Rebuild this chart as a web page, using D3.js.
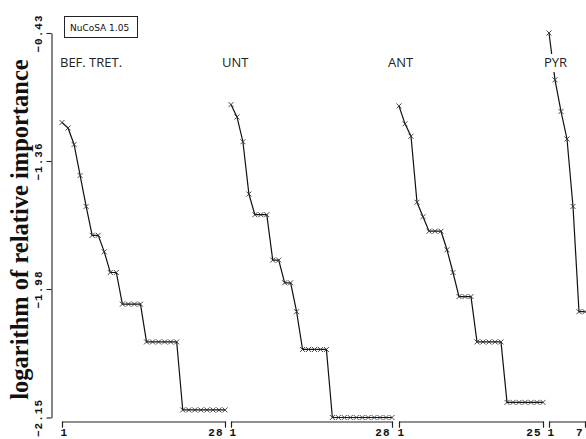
<!DOCTYPE html>
<html>
<head>
<meta charset="utf-8">
<script src="https://cdn.jsdelivr.net/npm/d3@7"></script>
<style>
  html, body { margin: 0; padding: 0; background: #fff; }
  svg { display: block; }
</style>
</head>
<body>
<svg id="chart" width="586" height="439"></svg>
<script>
// ---- data ----
const panelNames = ["BEF. TRET.", "UNT", "ANT", "PYR"];
const befTret = [-1.08, -1.12, -1.24, -1.43, -1.58, -1.72, -1.72, -1.80, -1.90, -1.90,
                 -2.00, -2.00, -2.00, -2.00, -2.05, -2.05, -2.05, -2.05, -2.05, -2.05,
                 -2.14, -2.14, -2.14, -2.14, -2.14, -2.14, -2.14, -2.14];
const unt = [-0.95, -1.04, -1.22, -1.52, -1.62, -1.62, -1.62, -1.84, -1.84, -1.95,
             -1.95, -2.01, -2.06, -2.06, -2.06, -2.06, -2.06, -2.15, -2.15, -2.15,
             -2.15, -2.15, -2.15, -2.15, -2.15, -2.15, -2.15, -2.15];
const ant = [-0.96, -1.09, -1.18, -1.56, -1.63, -1.70, -1.70, -1.70, -1.79, -1.90,
             -1.99, -1.99, -1.99, -2.05, -2.05, -2.05, -2.05, -2.05, -2.13, -2.13,
             -2.13, -2.13, -2.13, -2.13, -2.13];
const pyr = [-0.43, -0.77, -1.00, -1.20, -1.58, -2.01, -2.01];
const yTicks = [-0.43, -1.36, -1.98, -2.15];
const yTitle = "logarithm of relative importance";
const versionLabel = "NuCoSA 1.05";

const seriesList = [befTret, unt, ant, pyr];

// ---- layout ----
const svg = d3.select("#chart");
const axisX = 51.5;
const y = d3.scaleLinear().domain(yTicks).range([33, 161, 289, 417.5]);
const panelRanges = [[62, 225], [231, 392], [399, 543], [549, 585]];
const xAxisY = 421.5;
const labelFont = "'Liberation Mono', 'DejaVu Sans Mono', monospace";

// y axis
const yAxis = svg.append("g")
  .attr("transform", `translate(${axisX},0)`)
  .call(d3.axisLeft(y).tickValues(yTicks).tickSizeInner(5).tickSizeOuter(0).tickFormat(d3.format(".2f")));
yAxis.select(".domain").attr("stroke", "#222").attr("stroke-width", 1.1);
yAxis.selectAll(".tick line").attr("stroke", "#222").attr("stroke-width", 1.1);
yAxis.selectAll(".tick text")
  .attr("x", null).attr("dy", null)
  .attr("transform", "translate(-10,0) rotate(-90)")
  .attr("text-anchor", "middle")
  .attr("fill", "#111")
  .style("font-family", labelFont)
  .style("font-weight", "bold")
  .style("font-size", "11px")
  .style("letter-spacing", "1px");

// y title
svg.append("text")
  .attr("transform", "translate(28,229.5) rotate(-90)")
  .attr("text-anchor", "middle")
  .style("font-family", "'Liberation Serif', 'DejaVu Serif', serif")
  .style("font-weight", "bold")
  .style("font-size", "24.5px")
  .attr("fill", "#111")
  .text(yTitle);

// version box
const vb = svg.append("g");
vb.append("rect").attr("x", 64.5).attr("y", 16.5).attr("width", 73).attr("height", 21)
  .attr("fill", "#fff").attr("stroke", "#222").attr("stroke-width", 1);
vb.append("text").attr("x", 70).attr("y", 30.5)
  .style("font-family", "'DejaVu Sans', sans-serif").style("font-size", "9px")
  .attr("fill", "#111").text(versionLabel);

const markerPath = "M-2.5,-2.5L2.5,2.5M-2.5,2.5L2.5,-2.5";

seriesList.forEach((vals, pi) => {
  const n = vals.length;
  const x = d3.scaleLinear().domain([1, n]).range(panelRanges[pi]);
  const g = svg.append("g");

  // x axis bracket
  const xa = g.append("g")
    .attr("transform", `translate(0,${xAxisY})`)
    .call(d3.axisBottom(x).tickValues([1, n]).tickSizeInner(6).tickSizeOuter(6).tickFormat(d3.format("d")));
  xa.select(".domain").attr("stroke", "#222").attr("stroke-width", 1.1);
  xa.selectAll(".tick line").attr("stroke", "#222").attr("stroke-width", 1.1);
  xa.selectAll(".tick text")
    .attr("fill", "#111")
    .attr("text-anchor", (d, i) => i === 0 ? "start" : "end")
    .attr("x", -2)
    .attr("y", 14)
    .attr("dy", null)
    .style("font-family", labelFont)
    .style("font-weight", "bold")
    .style("font-size", "11px")
    .style("letter-spacing", "1px");

  const pts = vals.map((v, i) => [x(i + 1), y(v)]);

  g.append("path")
    .attr("d", d3.line()(pts))
    .attr("fill", "none")
    .attr("stroke", "#111")
    .attr("stroke-width", 1.2);

  g.selectAll("path.mk").data(pts).join("path")
    .attr("class", "mk")
    .attr("transform", d => `translate(${d[0]},${d[1]})`)
    .attr("d", markerPath)
    .attr("stroke", "#333")
    .attr("stroke-width", 0.9)
    .attr("fill", "none");
});

// panel labels (white background so the line is hidden beneath)
const labelX = [60, 222, 388, 544];
panelNames.forEach((name, i) => {
  const lg = svg.append("g");
  const t = lg.append("text")
    .attr("x", labelX[i]).attr("y", 67)
    .style("font-family", "'Open Sans', sans-serif")
    .style("font-size", "13px")
    .attr("fill", "#222")
    .text(name);
  const bb = t.node().getBBox();
  lg.insert("rect", "text")
    .attr("x", bb.x - 1).attr("y", bb.y + 1)
    .attr("width", bb.width + 2).attr("height", bb.height)
    .attr("fill", "#fff");
});
</script>
</body>
</html>
